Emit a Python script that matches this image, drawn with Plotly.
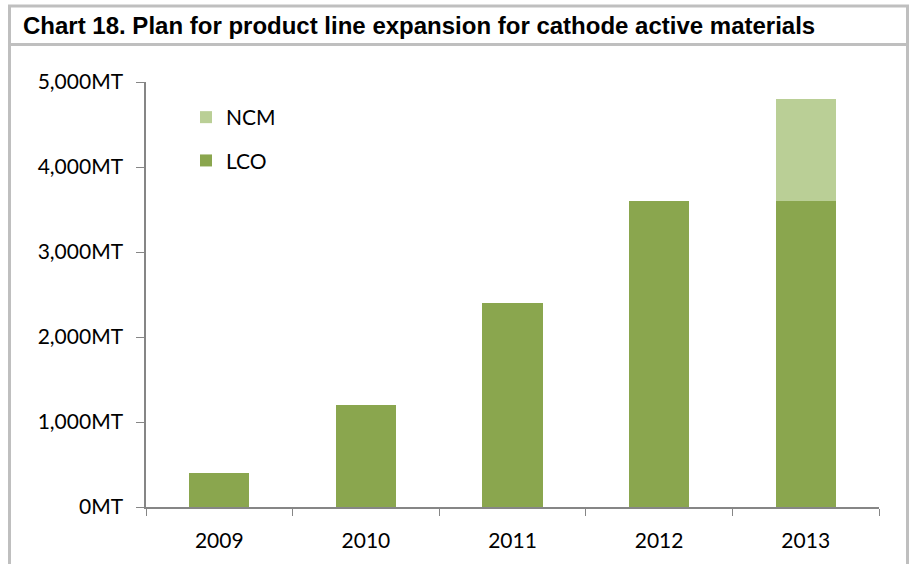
import plotly.graph_objects as go

years = ["2009", "2010", "2011", "2012", "2013"]
lco = [400, 1200, 2400, 3600, 3600]
ncm = [0, 0, 0, 0, 1200]
y_ticks = [0, 1000, 2000, 3000, 4000, 5000]
y_tick_labels = ["0MT", "1,000MT", "2,000MT", "3,000MT", "4,000MT", "5,000MT"]

W, H = 909, 564
L, R, T, B = 146, 30, 82, 57
PW, PH = W - L - R, H - T - B

def px(x):
    return (x - L) / PW

def py(y):
    return (H - B - y) / PH

fig = go.Figure()
fig.add_trace(go.Bar(x=years, y=lco, name="LCO", marker=dict(color="#8AA64E", line=dict(width=0)),
                     legendgroup="a", legendrank=2))
fig.add_trace(go.Bar(x=years, y=ncm, name="NCM", marker=dict(color="#BACF96", line=dict(width=0)),
                     legendgroup="b", legendrank=1))

border = "#BFBFBF"
shapes = [
    dict(type="line", xref="paper", yref="paper", x0=px(9.5), x1=px(9.5), y0=py(5), y1=py(570),
         line=dict(color=border, width=3)),
    dict(type="line", xref="paper", yref="paper", x0=px(907.5), x1=px(907.5), y0=py(5), y1=py(570),
         line=dict(color=border, width=3)),
    dict(type="line", xref="paper", yref="paper", x0=px(8), x1=px(909), y0=py(6), y1=py(6),
         line=dict(color=border, width=3)),
    dict(type="line", xref="paper", yref="paper", x0=px(8), x1=px(909), y0=py(44.5), y1=py(44.5),
         line=dict(color=border, width=3)),
]

fig.update_layout(
    width=W, height=H,
    margin=dict(l=L, r=R, t=T, b=B, pad=0),
    paper_bgcolor="white", plot_bgcolor="white",
    barmode="stack", bargap=0.59,
    font=dict(family="Lato, Carlito, sans-serif", size=21, color="#000000"),
    title=dict(text="<b>Chart 18. Plan for product line expansion for cathode active materials</b>",
               xref="container", yref="container", x=23 / W, xanchor="left",
               y=1 - 26 / H, yanchor="middle",
               font=dict(family="Liberation Sans, Arial, sans-serif", size=24, color="#000000")),
    xaxis=dict(showline=True, linecolor="#868686", linewidth=1.5, ticks="outside", tickson="boundaries",
               ticklen=7, tickcolor="#868686", showgrid=False, tickfont=dict(size=21),
               ticklabelstandoff=14),
    yaxis=dict(range=[0, 5000], tickvals=y_ticks, ticktext=y_tick_labels, showline=True,
               linecolor="#868686", linewidth=1.5, ticks="outside", ticklen=8, tickcolor="#868686",
               showgrid=False, zeroline=False, tickfont=dict(size=21), ticklabelstandoff=9),
    legend=dict(x=px(186), y=py(97), xanchor="left", yanchor="top", traceorder="grouped",
                tracegroupgap=13, font=dict(size=21), bgcolor="rgba(0,0,0,0)"),
    shapes=shapes,
)

fig.write_html("out.html")
